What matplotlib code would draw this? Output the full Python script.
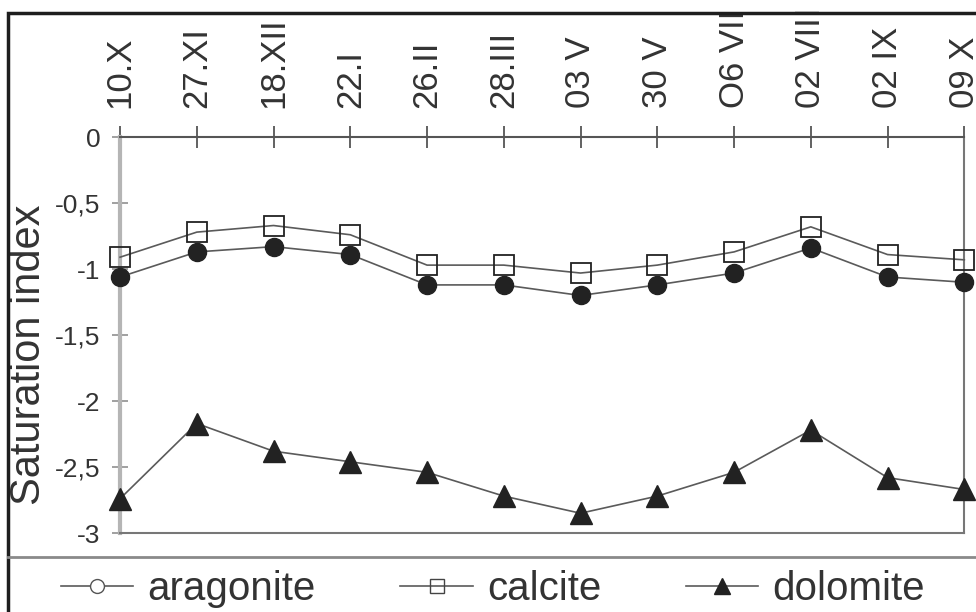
import matplotlib.pyplot as plt
from matplotlib.lines import Line2D
from matplotlib.patches import Rectangle

# ==========================================================
# Data
# ==========================================================

dates = ["10.X", "27.XI", "18.XII", "22.I", "26.II", "28.III",
         "03 V", "30 V", "O6 VII", "02 VIII", "02 IX", "09 X"]

aragonite = [-1.06, -0.87, -0.83, -0.89, -1.12, -1.12,
             -1.20, -1.12, -1.03, -0.84, -1.06, -1.10]

calcite = [-0.91, -0.72, -0.67, -0.74, -0.97, -0.97,
           -1.03, -0.97, -0.87, -0.68, -0.89, -0.93]

dolomite = [-2.74, -2.17, -2.38, -2.46, -2.54, -2.72,
            -2.85, -2.72, -2.54, -2.22, -2.58, -2.67]

y_ticks = [0, -0.5, -1, -1.5, -2, -2.5, -3]
y_tick_labels = ["0", "-0,5", "-1", "-1,5", "-2", "-2,5", "-3"]

# ==========================================================
# Figure
# ==========================================================

plt.rcParams["font.family"] = ["Liberation Sans", "DejaVu Sans"]

fig = plt.figure(figsize=(9.76, 6.12), dpi=100)
fig.patch.set_facecolor("white")

ax = fig.add_axes([0.123, 0.129, 0.865, 0.647])

x = list(range(len(dates)))
line_col = "#5a5a5a"
mark_col = "#222222"

ax.plot(x, aragonite, color=line_col, linewidth=1.2, marker="o",
        markersize=13, markerfacecolor=mark_col, markeredgecolor=mark_col,
        clip_on=False, zorder=3)
ax.plot(x, calcite, color=line_col, linewidth=1.2, marker="s",
        markersize=14, markerfacecolor="none", markeredgecolor=mark_col,
        markeredgewidth=1.3, clip_on=False, zorder=3)
ax.plot(x, dolomite, color=line_col, linewidth=1.2, marker="^",
        markersize=16, markerfacecolor=mark_col, markeredgecolor=mark_col,
        clip_on=False, zorder=3)

ax.set_xlim(0, len(dates) - 1)
ax.set_ylim(-3, 0)

# x axis on top (at y = 0)
ax.xaxis.tick_top()
ax.set_xticks(x)
ax.set_xticklabels(dates, rotation=90, fontsize=25, color="#333333")
ax.tick_params(axis="x", direction="inout", length=16, width=1.3,
               colors="#555555", labelcolor="#333333", pad=13)

ax.set_yticks(y_ticks)
ax.set_yticklabels(y_tick_labels, fontsize=19, color="#333333")
ax.tick_params(axis="y", direction="inout", length=12, width=1.3,
               colors="#999999", labelcolor="#333333", pad=8)

ax.set_ylabel("Saturation index", fontsize=30, color="#333333")
ax.yaxis.set_label_coords(-0.084, 0.45)

ax.spines["top"].set_color("#555555")
ax.spines["top"].set_linewidth(1.5)
ax.spines["left"].set_color("#b5b5b5")
ax.spines["left"].set_linewidth(3)
ax.spines["right"].set_color("#777777")
ax.spines["right"].set_linewidth(1.5)
ax.spines["bottom"].set_color("#777777")
ax.spines["bottom"].set_linewidth(1.5)

# ==========================================================
# Frame and separator
# ==========================================================

fig.add_artist(Rectangle((0.008, -0.05), 1.2, 1.029,
                         transform=fig.transFigure, fill=False,
                         edgecolor="#1e1e1e", linewidth=2.5))
fig.add_artist(Line2D([0.008, 1.0], [0.09, 0.09],
                      transform=fig.transFigure, color="#8a8a8a",
                      linewidth=2))

# ==========================================================
# Legend
# ==========================================================

handles = [
    Line2D([], [], color=line_col, linewidth=1.2, marker="o",
           markersize=10, markerfacecolor="white",
           markeredgecolor="#555555"),
    Line2D([], [], color=line_col, linewidth=1.2, marker="s",
           markersize=10, markerfacecolor="none",
           markeredgecolor="#444444"),
    Line2D([], [], color=line_col, linewidth=1.2, marker="^",
           markersize=11, markerfacecolor=mark_col,
           markeredgecolor=mark_col),
]

leg = fig.legend(handles, ["aragonite", "calcite", "dolomite"],
                 loc="center", bbox_to_anchor=(0.505, 0.038), ncol=3,
                 frameon=False, fontsize=29, handlelength=1.8,
                 handletextpad=0.35, columnspacing=2.1,
                 borderaxespad=0, borderpad=0)
for t in leg.get_texts():
    t.set_color("#333333")

fig.savefig("out.png", dpi=100)
plt.close(fig)
